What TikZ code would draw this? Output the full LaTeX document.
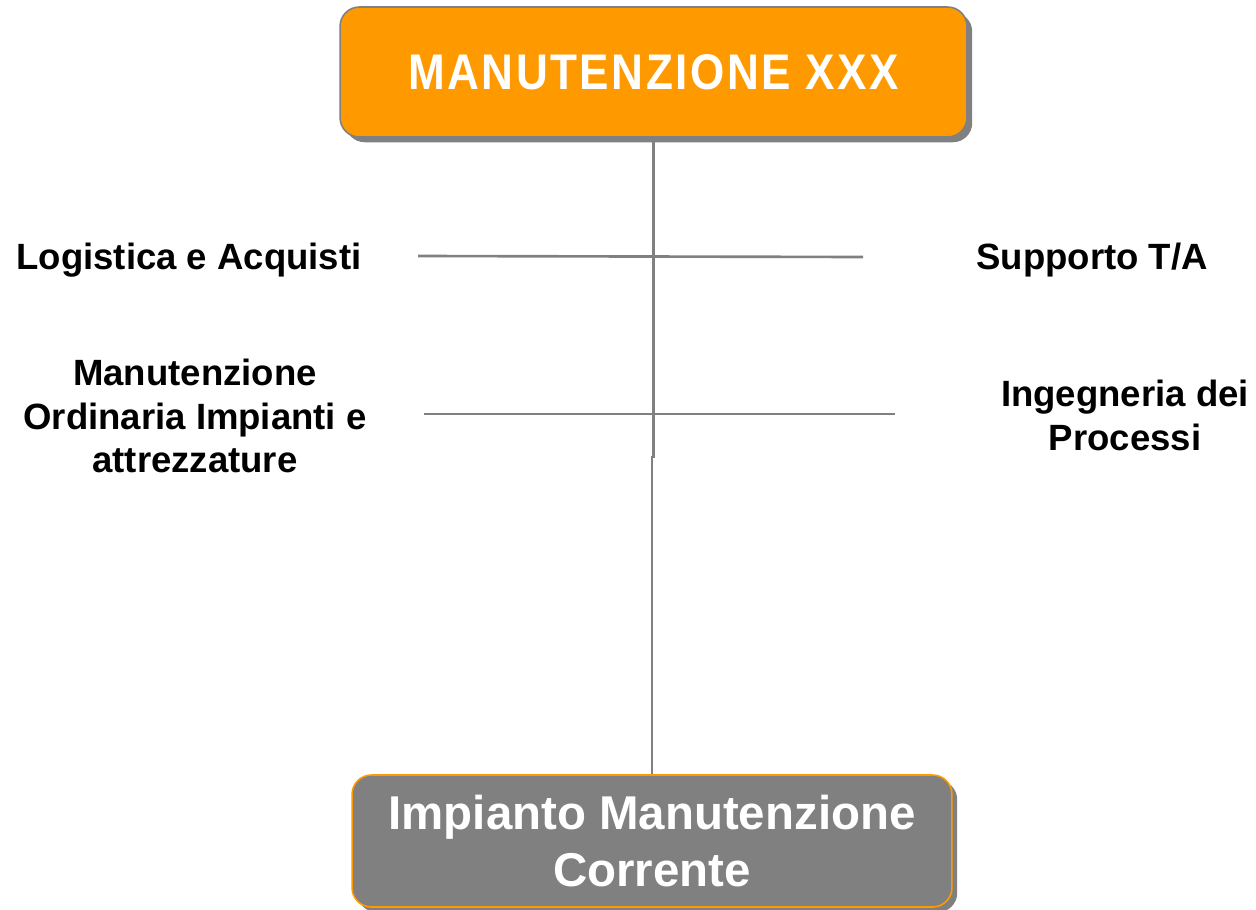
\documentclass[tikz,border=0pt]{standalone}
\usepackage{fontspec}
\setmainfont{Liberation Sans}
\newfontfamily\titlefont[FakeStretch=0.88,LetterSpace=5]{Liberation Sans}
\usetikzlibrary{shadows}

\begin{document}
\begin{tikzpicture}[x=0.02cm,y=-0.02cm,
  boxnode/.style={rounded corners=11pt,align=center,text=white,inner sep=0pt,
    font=\fontsize{27}{32.3}\selectfont\bfseries,
    drop shadow={fill=shadowgray,opacity=1,shadow xshift=3pt,shadow yshift=-3pt}},
  lblnode/.style={align=center,font=\fontsize{20.8}{25}\selectfont\bfseries},
  conn/.style={draw=linegray,line width=1.5pt}]
\definecolor{boxorange}{HTML}{FF9900}
\definecolor{boxgray}{HTML}{808080}
\definecolor{shadowgray}{HTML}{808080}
\definecolor{linegray}{HTML}{808080}
\useasboundingbox (0,0) rectangle (1256,909);
% boxes
\node [boxnode,fill=boxorange,draw=linegray,line width=0.9pt,
  minimum width=12.54cm,minimum height=2.6cm] (top) at (653.5,72)
  {\titlefont\fontsize{28.5}{34}\selectfont\bfseries MANUTENZIONE XXX};
\node [boxnode,fill=boxgray,draw=boxorange,line width=0.9pt,
  minimum width=12cm,minimum height=2.64cm] (bottom) at (652,841)
  {Impianto Manutenzione\\Corrente};
% labels
\node [lblnode] (logist) at (189,260) {Logistica e Acquisti};
\node [lblnode] (supp) at (1092,260) {Supporto T/A};
\node [lblnode] (ordin) at (195,416) {Manutenzione\\Ordinaria Impianti e\\attrezzature};
\node [lblnode] (ingeg) at (1125,415) {Ingegneria dei\\Processi};
% lines
\coordinate (jog) at (653.5,457);
\coordinate (h1w) at (418,256);
\coordinate (h1e) at (863,257);
\coordinate (h2w) at (424,414);
\coordinate (h2e) at (895,414);
\draw [conn] (top.south) -- (jog) -- (jog -| bottom.north) -- (bottom.north);
\draw [conn] (h1w) -- (h1e);
\draw [conn] (h2w) -- (h2e);
\end{tikzpicture}
\end{document}
